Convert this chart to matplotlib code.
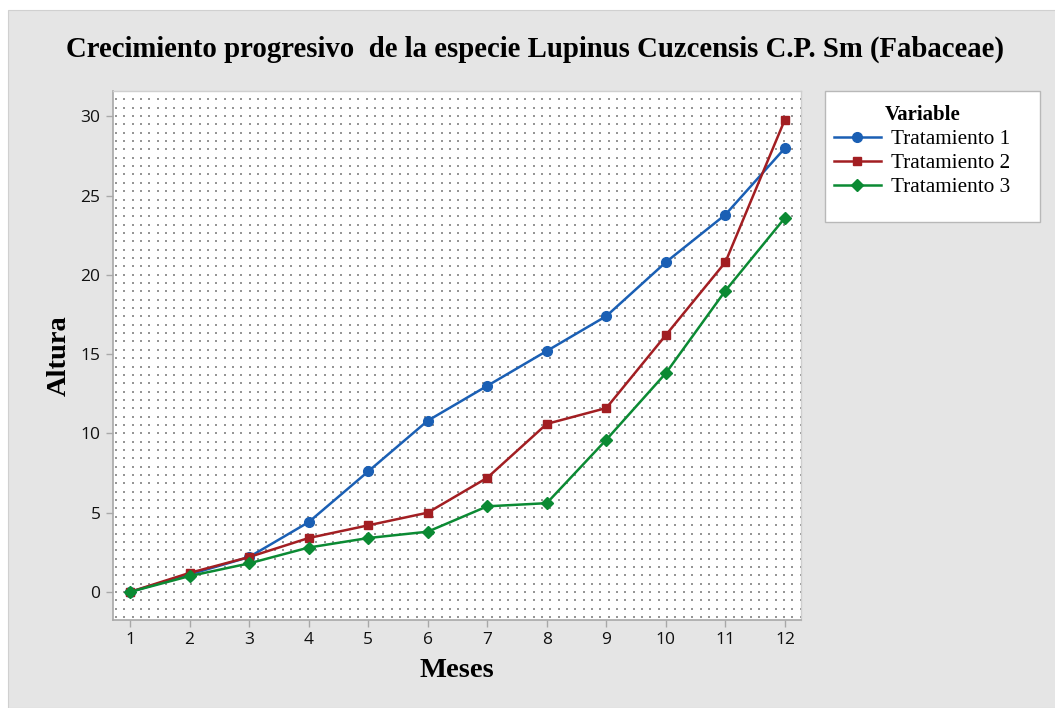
import numpy as np
import matplotlib.pyplot as plt
from matplotlib.patches import Rectangle

meses = [1, 2, 3, 4, 5, 6, 7, 8, 9, 10, 11, 12]
trat1 = [0, 1.1, 2.2, 4.4, 7.6, 10.8, 13.0, 15.2, 17.4, 20.8, 23.8, 28.0]
trat2 = [0, 1.2, 2.2, 3.4, 4.2, 5.0, 7.2, 10.6, 11.6, 16.2, 20.8, 29.8]
trat3 = [0, 1.0, 1.8, 2.8, 3.4, 3.8, 5.4, 5.6, 9.6, 13.8, 19.0, 23.6]
yticks = [0, 5, 10, 15, 20, 25, 30]

W, H = 1055, 708
fig = plt.figure(figsize=(W / 100, H / 100), dpi=100, facecolor='white')
# gray panel with small white margin top/left
fig.patches.append(Rectangle((8 / W, 0), 1, 1 - 10 / H, transform=fig.transFigure,
                             facecolor='#e5e5e5', edgecolor='#d0d0d0', lw=0.8, zorder=-10))

ax = fig.add_axes([113 / W, 1 - 620 / H, 688 / W, 529 / H])
ax.set_facecolor('white')

# dotted background grid (decoration)
aw, ah = 688, 529
gx = np.arange(3, aw, 8.35) / aw
gy = np.arange(3, ah, 8.35) / ah
XX, YY = np.meshgrid(gx, gy)
ax.scatter(XX.ravel(), YY.ravel(), s=2.2, marker='s', color='#969696', lw=0,
           transform=ax.transAxes, zorder=0)

ax.plot(meses, trat1, color='#1a5fb4', marker='o', ms=7, lw=1.8, label='Tratamiento 1', zorder=3)
ax.plot(meses, trat2, color='#a21e22', marker='s', ms=5.6, lw=1.8, label='Tratamiento 2', zorder=3)
ax.plot(meses, trat3, color='#0b8a33', marker='D', ms=6.4, lw=1.8, label='Tratamiento 3', zorder=4)

ax.set_xlim(0.715, 12.27)
ax.set_ylim(-1.77, 31.6)
ax.set_xticks(meses)
ax.set_yticks(yticks)
ax.tick_params(axis='both', direction='out', length=5, width=1, color='#a8a8a8',
               labelsize=12.5, labelcolor='#111111', pad=4)
for lab in ax.get_xticklabels() + ax.get_yticklabels():
    lab.set_family('Open Sans')
for s in ['left', 'bottom']:
    ax.spines[s].set_color('#a8a8a8')
    ax.spines[s].set_linewidth(1.2)
for s in ['top', 'right']:
    ax.spines[s].set_color('#cfcfcf')
    ax.spines[s].set_linewidth(1.0)

ax.set_xlabel('Meses', family='Liberation Serif', fontweight='bold', fontsize=20.5, labelpad=7)
ax.set_ylabel('Altura', family='Liberation Serif', fontweight='bold', fontsize=20.5, labelpad=6)

fig.text(0.5 + 8 / W, 1 - 49 / H, 'Crecimiento progresivo  de la especie Lupinus Cuzcensis C.P. Sm (Fabaceae)',
         ha='center', va='center', family='Liberation Serif', fontweight='bold', fontsize=20.7)

# legend box
fig.patches.append(Rectangle((825 / W, 1 - 222 / H), 215 / W, 131 / H, transform=fig.transFigure,
                             facecolor='white', edgecolor='#b8b8b8', lw=1.0, zorder=1))
leg = fig.legend(loc='upper left', bbox_to_anchor=(819 / W, 1 - 90 / H), frameon=False,
                 title='Variable', handlelength=2.2, handletextpad=0.5, labelspacing=0.2,
                 borderpad=0.2, prop={'family': 'Liberation Serif', 'size': 15.3},
                 title_fontproperties={'family': 'Liberation Serif', 'weight': 'bold', 'size': 15})
leg.set_zorder(2)

fig.savefig('out.png', dpi=100)
